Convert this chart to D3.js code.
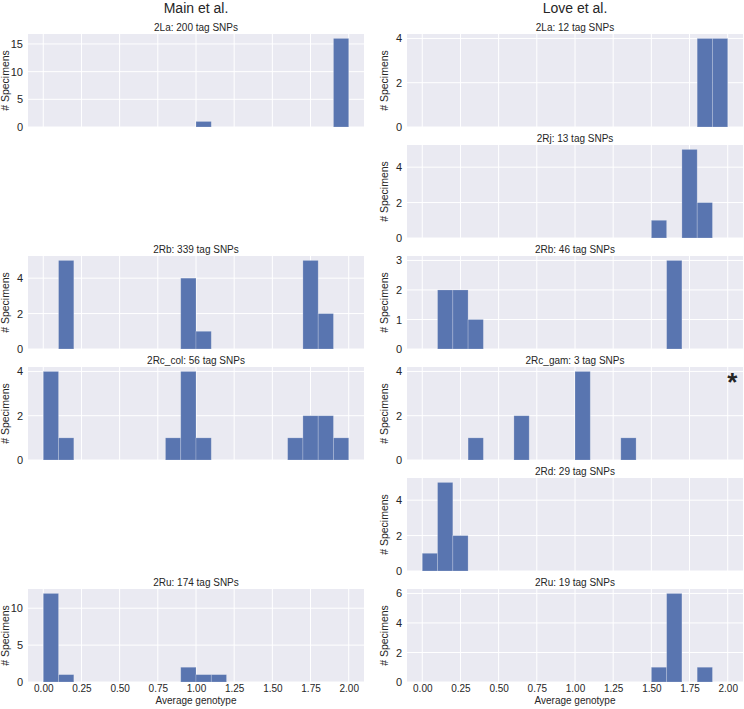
<!DOCTYPE html>
<html><head><meta charset="utf-8">
<script src="https://cdn.jsdelivr.net/npm/d3@7"></script>
<style>body{margin:0;background:#fff;} svg{display:block;} text{font-family:"Liberation Sans",Arial,sans-serif;}</style>
</head><body><svg id="c" width="744" height="709"></svg>
<script>
// Histogram bin starts (width 0.1)
const binStarts = [0.0,0.1,0.2,0.3,0.4,0.5,0.6,0.7,0.8,0.9,1.0,1.1,1.2,1.3,1.4,1.5,1.6,1.7,1.8,1.9];
const binWidth = 0.1;
const xTicks = [0,0.25,0.5,0.75,1.0,1.25,1.5,1.75,2.0];
const columnTitles = ["Main et al.", "Love et al."];

// counts per bin for each panel
const main2La    = [0,0,0,0,0,0,0,0,0,0,1,0,0,0,0,0,0,0,0,16];
const main2Rb    = [0,5,0,0,0,0,0,0,0,4,1,0,0,0,0,0,0,5,2,0];
const main2Rc    = [4,1,0,0,0,0,0,0,1,4,1,0,0,0,0,0,1,2,2,1];
const main2Ru    = [12,1,0,0,0,0,0,0,0,2,1,1,0,0,0,0,0,0,0,0];
const love2La    = [0,0,0,0,0,0,0,0,0,0,0,0,0,0,0,0,0,0,4,4];
const love2Rj    = [0,0,0,0,0,0,0,0,0,0,0,0,0,0,0,1,0,5,2,0];
const love2Rb    = [0,2,2,1,0,0,0,0,0,0,0,0,0,0,0,0,3,0,0,0];
const love2Rc    = [0,0,0,1,0,0,2,0,0,0,4,0,0,1,0,0,0,0,0,0];
const love2Rd    = [1,5,2,0,0,0,0,0,0,0,0,0,0,0,0,0,0,0,0,0];
const love2Ru    = [0,0,0,0,0,0,0,0,0,0,0,0,0,0,0,1,6,0,1,0];

const panelTitles = {
  main2La:"2La: 200 tag SNPs", main2Rb:"2Rb: 339 tag SNPs", main2Rc:"2Rc_col: 56 tag SNPs", main2Ru:"2Ru: 174 tag SNPs",
  love2La:"2La: 12 tag SNPs", love2Rj:"2Rj: 13 tag SNPs", love2Rb:"2Rb: 46 tag SNPs", love2Rc:"2Rc_gam: 3 tag SNPs",
  love2Rd:"2Rd: 29 tag SNPs", love2Ru:"2Ru: 19 tag SNPs"
};
const yTickSets = {
  main2La:[0,5,10,15], main2Rb:[0,2,4], main2Rc:[0,2,4], main2Ru:[0,5,10],
  love2La:[0,2,4], love2Rj:[0,2,4], love2Rb:[0,1,2,3], love2Rc:[0,2,4], love2Rd:[0,2,4], love2Ru:[0,2,4,6]
};
const panels = [
  {col:0,row:0,key:"main2La",data:main2La},
  {col:0,row:2,key:"main2Rb",data:main2Rb},
  {col:0,row:3,key:"main2Rc",data:main2Rc},
  {col:0,row:5,key:"main2Ru",data:main2Ru},
  {col:1,row:0,key:"love2La",data:love2La},
  {col:1,row:1,key:"love2Rj",data:love2Rj},
  {col:1,row:2,key:"love2Rb",data:love2Rb},
  {col:1,row:3,key:"love2Rc",data:love2Rc,star:true},
  {col:1,row:4,key:"love2Rd",data:love2Rd},
  {col:1,row:5,key:"love2Ru",data:love2Ru}
];

const svg = d3.select("#c");
const colX = [[28,364],[407,743]];
const rowTop = [34,145,256,367,478,589];
const ph = 93;
const textCol = "#262626";
const barCol = "#5975b0";

columnTitles.forEach((t,i)=>{
  svg.append("text").attr("x",(colX[i][0]+colX[i][1])/2).attr("y",12.5)
    .attr("text-anchor","middle").attr("font-size",14).attr("fill",textCol).text(t);
});

panels.forEach(p=>{
  const [x0,x1] = colX[p.col];
  const top = rowTop[p.row];
  const x = d3.scaleLinear().domain([-0.1,2.1]).range([x0,x1]);
  const ymax = d3.max(p.data)*1.05;
  const y = d3.scaleLinear().domain([0,ymax]).range([top+ph,top]);
  const g = svg.append("g");
  g.append("rect").attr("x",x0).attr("y",top).attr("width",x1-x0).attr("height",ph).attr("fill","#eaeaf2");
  // grid
  g.selectAll(".gx").data(xTicks).enter().append("line")
    .attr("x1",d=>x(d)).attr("x2",d=>x(d)).attr("y1",top).attr("y2",top+ph)
    .attr("stroke","#fff").attr("stroke-width",1);
  g.selectAll(".gy").data(yTickSets[p.key]).enter().append("line")
    .attr("x1",x0).attr("x2",x1).attr("y1",d=>y(d)).attr("y2",d=>y(d))
    .attr("stroke","#fff").attr("stroke-width",1);
  // bars
  const bars = binStarts.map((b,i)=>({b,c:p.data[i]})).filter(d=>d.c>0);
  g.selectAll(".bar").data(bars).enter().append("rect")
    .attr("x",d=>x(d.b)).attr("width",d=>x(d.b+binWidth)-x(d.b))
    .attr("y",d=>y(d.c)).attr("height",d=>y(0)-y(d.c))
    .attr("fill",barCol).attr("stroke","rgba(255,255,255,0.25)").attr("stroke-width",0.8);
  // y tick labels
  const ya = d3.axisLeft(y).tickValues(yTickSets[p.key]).tickSize(0).tickPadding(5).tickFormat(d3.format("d"));
  const yg = g.append("g").attr("transform",`translate(${x0},0)`).call(ya);
  yg.select(".domain").remove();
  yg.selectAll("text").attr("font-size",11).attr("fill",textCol).style("font-family","Liberation Sans, Arial, sans-serif");
  // title
  g.append("text").attr("x",(x0+x1)/2).attr("y",top-3.5).attr("text-anchor","middle")
    .attr("font-size",10).attr("fill",textCol).text(panelTitles[p.key]);
  // y label
  g.append("text").attr("transform",`translate(${x0-19},${top+ph/2}) rotate(-90)`)
    .attr("text-anchor","middle").attr("font-size",10.5).attr("fill",textCol).text("# Specimens");
  if (p.row===5){
    const xa = d3.axisBottom(x).tickValues(xTicks).tickSize(0).tickPadding(3).tickFormat(d3.format(".2f"));
    const xg = g.append("g").attr("transform",`translate(0,${top+ph})`).call(xa);
    xg.select(".domain").remove();
    xg.selectAll("text").attr("font-size",10).attr("fill",textCol).style("font-family","Liberation Sans, Arial, sans-serif");
    g.append("text").attr("x",(x0+x1)/2).attr("y",top+ph+21.5).attr("text-anchor","middle")
      .attr("font-size",10).attr("fill",textCol).text("Average genotype");
  }
  if (p.star){
    g.append("text").attr("x",x(2.03)).attr("y",top+24).attr("text-anchor","middle")
      .attr("font-size",26).attr("font-weight","bold").attr("fill",textCol).text("*");
  }
});
</script></body></html>
